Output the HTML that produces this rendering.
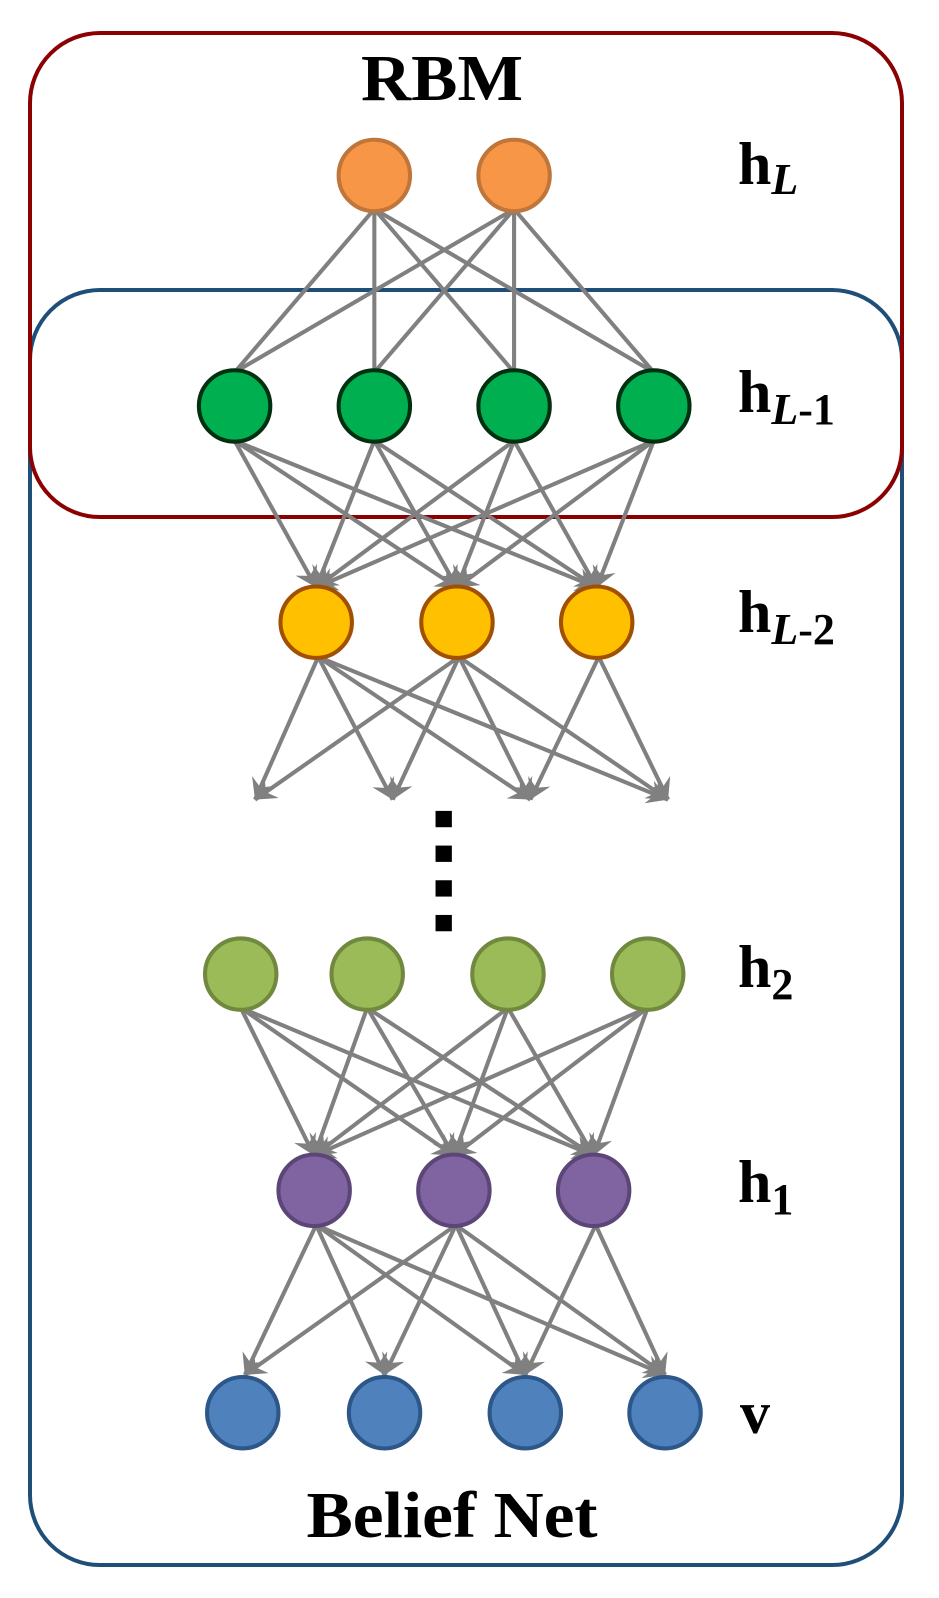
<!DOCTYPE html>
<html><head><meta charset="utf-8"><style>
html,body{margin:0;padding:0;background:#fff;}
svg{display:block;}
text{font-family:"Liberation Serif",serif;font-weight:bold;fill:#000;}
</style></head><body>
<svg width="939" height="1598" viewBox="0 0 939 1598" xmlns="http://www.w3.org/2000/svg">
<defs>
<marker id="a" markerUnits="userSpaceOnUse" markerWidth="40" markerHeight="40" refX="22" refY="14" orient="auto">
<path d="M2,2 L22,14 L2,26 L9,14 Z" fill="#808080"/>
</marker>
</defs>
<rect x="30" y="290" width="872" height="1275" rx="70" fill="none" stroke="#1f4e79" stroke-width="4"/>
<rect x="30" y="33" width="872" height="484" rx="70" fill="none" stroke="#8b0000" stroke-width="4"/>

<g transform="scale(1.02)">
<g stroke="#808080" stroke-width="4" fill="none">
<line x1="367" y1="205" x2="230" y2="365"/><line x1="367" y1="205" x2="367" y2="365"/><line x1="367" y1="205" x2="504" y2="365"/><line x1="367" y1="205" x2="641" y2="365"/>
<line x1="504" y1="205" x2="230" y2="365"/><line x1="504" y1="205" x2="367" y2="365"/><line x1="504" y1="205" x2="504" y2="365"/><line x1="504" y1="205" x2="641" y2="365"/>
</g>
<g stroke="#808080" stroke-width="4" fill="none" marker-end="url(#a)">
<line x1="230" y1="432" x2="310" y2="576"/><line x1="230" y1="432" x2="448" y2="576"/><line x1="230" y1="432" x2="585" y2="576"/>
<line x1="367" y1="432" x2="310" y2="576"/><line x1="367" y1="432" x2="448" y2="576"/><line x1="367" y1="432" x2="585" y2="576"/>
<line x1="504" y1="432" x2="310" y2="576"/><line x1="504" y1="432" x2="448" y2="576"/><line x1="504" y1="432" x2="585" y2="576"/>
<line x1="641" y1="432" x2="310" y2="576"/><line x1="641" y1="432" x2="448" y2="576"/><line x1="641" y1="432" x2="585" y2="576"/>
<line x1="312" y1="644" x2="250" y2="784"/><line x1="312" y1="644" x2="385" y2="784"/><line x1="312" y1="644" x2="520" y2="784"/><line x1="312" y1="644" x2="655" y2="784"/>
<line x1="450" y1="644" x2="250" y2="784"/><line x1="450" y1="644" x2="385" y2="784"/><line x1="450" y1="644" x2="520" y2="784"/><line x1="450" y1="644" x2="655" y2="784"/>
<line x1="587" y1="644" x2="520" y2="784"/><line x1="587" y1="644" x2="655" y2="784"/>
<line x1="236" y1="988" x2="308" y2="1133"/><line x1="236" y1="988" x2="445" y2="1133"/><line x1="236" y1="988" x2="582" y2="1133"/>
<line x1="360" y1="988" x2="308" y2="1133"/><line x1="360" y1="988" x2="445" y2="1133"/><line x1="360" y1="988" x2="582" y2="1133"/>
<line x1="498" y1="988" x2="308" y2="1133"/><line x1="498" y1="988" x2="445" y2="1133"/><line x1="498" y1="988" x2="582" y2="1133"/>
<line x1="635" y1="988" x2="308" y2="1133"/><line x1="635" y1="988" x2="445" y2="1133"/><line x1="635" y1="988" x2="582" y2="1133"/>
<line x1="310" y1="1201" x2="240" y2="1348"/><line x1="310" y1="1201" x2="377" y2="1348"/><line x1="310" y1="1201" x2="515" y2="1348"/><line x1="310" y1="1201" x2="652" y2="1348"/>
<line x1="447" y1="1201" x2="240" y2="1348"/><line x1="447" y1="1201" x2="377" y2="1348"/><line x1="447" y1="1201" x2="515" y2="1348"/><line x1="447" y1="1201" x2="652" y2="1348"/>
<line x1="584" y1="1201" x2="515" y2="1348"/><line x1="584" y1="1201" x2="652" y2="1348"/>
</g>

<g stroke-width="4">
<circle cx="367" cy="172" r="35" fill="#F79646" stroke="#c0763a"/>
<circle cx="504" cy="172" r="35" fill="#F79646" stroke="#c0763a"/>
<g fill="#00B050" stroke="#00300f"><circle cx="230" cy="398" r="35"/><circle cx="367" cy="398" r="35"/><circle cx="504" cy="398" r="35"/><circle cx="641" cy="398" r="35"/></g>
<g fill="#FFC000" stroke="#a05000"><circle cx="310" cy="610" r="35"/><circle cx="448" cy="610" r="35"/><circle cx="585" cy="610" r="35"/></g>
<g fill="#9BBB59" stroke="#71893f"><circle cx="236" cy="955" r="35"/><circle cx="360" cy="955" r="35"/><circle cx="498" cy="955" r="35"/><circle cx="635" cy="955" r="35"/></g>
<g fill="#8064A2" stroke="#5c4677"><circle cx="308" cy="1167" r="35"/><circle cx="445" cy="1167" r="35"/><circle cx="582" cy="1167" r="35"/></g>
<g fill="#4F81BD" stroke="#2c5788"><circle cx="238" cy="1385" r="35"/><circle cx="377" cy="1385" r="35"/><circle cx="515" cy="1385" r="35"/><circle cx="652" cy="1385" r="35"/></g>
</g>

<g fill="#000"><rect x="427" y="795" width="16" height="16"/><rect x="427" y="829" width="16" height="16"/><rect x="427" y="863" width="16" height="16"/><rect x="427" y="897" width="16" height="16"/></g>
</g>

<text x="442" y="100" font-size="66" text-anchor="middle" textLength="162" lengthAdjust="spacingAndGlyphs">RBM</text>
<text x="738" y="184" font-size="60">h<tspan font-style="italic" font-size="44" dy="10">L</tspan></text>
<text x="738" y="412" font-size="60">h<tspan font-size="44" dy="12"><tspan font-style="italic">L</tspan>-1</tspan></text>
<text x="738" y="632" font-size="60">h<tspan font-size="44" dy="12"><tspan font-style="italic">L</tspan>-2</tspan></text>
<text x="738" y="987" font-size="60">h<tspan font-size="44" dy="12">2</tspan></text>
<text x="738" y="1202" font-size="60">h<tspan font-size="44" dy="12">1</tspan></text>
<text x="740" y="1433" font-size="60">v</text>
<text x="452" y="1537" font-size="66" text-anchor="middle" textLength="291" lengthAdjust="spacingAndGlyphs">Belief Net</text>
</svg>
</body></html>
